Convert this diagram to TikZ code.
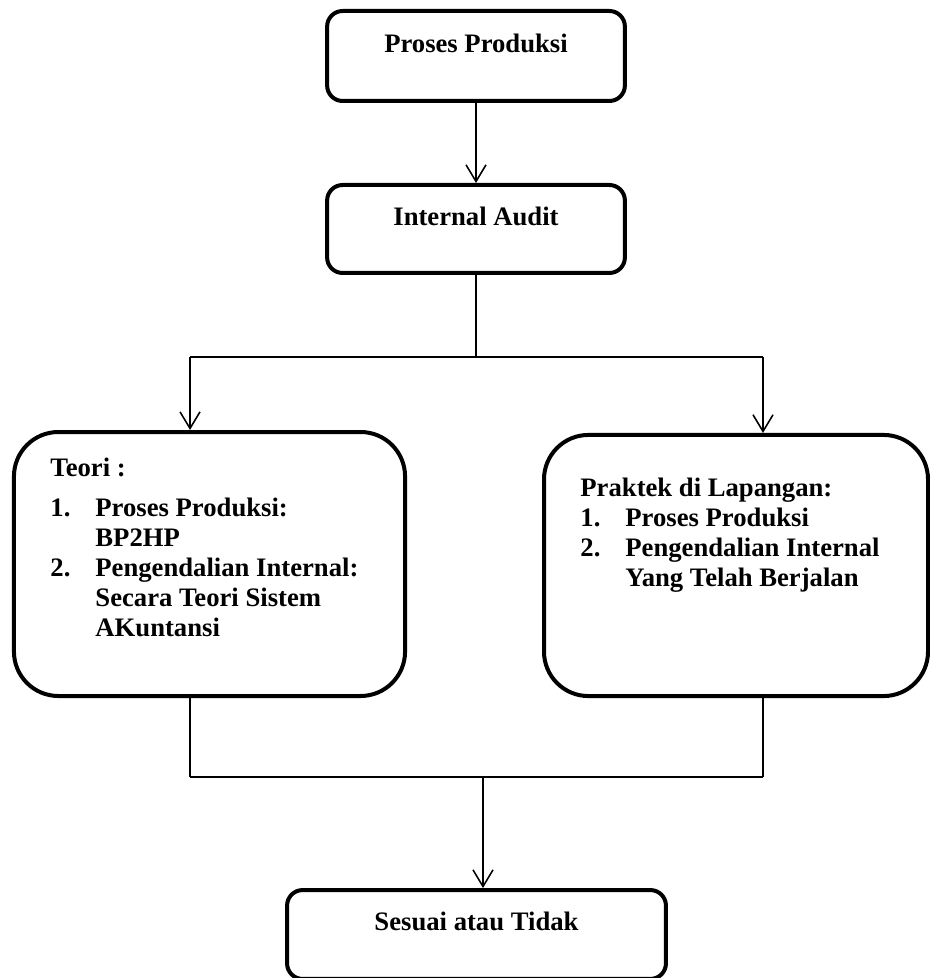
\documentclass[tikz,border=0pt]{standalone}
\usepackage{fontspec}
\setmainfont{Liberation Serif}
\usetikzlibrary{arrows.meta}

\tikzset{
  kotak/.style={draw, line width=1.8pt, rounded corners=7pt, inner sep=0pt,
    minimum width=134pt, text height=18pt, text depth=21.5pt,
    font=\bfseries\fontsize{12}{13.5}\selectfont},
  kotakbesar/.style={draw, line width=1.8pt, rounded corners=20pt, inner sep=0pt},
  isi/.style={anchor=north west, inner sep=0pt, align=left,
    font=\bfseries\fontsize{12}{13.5}\selectfont},
  garis/.style={line width=0.7pt},
  panah/.style={garis, -{Straight Barb[length=7.5pt,width=9pt]}}
}
\newcommand{\butir}[1]{\makebox[20.25pt][l]{#1}}

\begin{document}
\begin{tikzpicture}[x=0.45pt,y=-0.45pt]
  \useasboundingbox (0,0) rectangle (929,978);
  % kotak alur
  \node[kotak, minimum height=40.5pt] (proses) at (476,56) {Proses Produksi};
  \node[kotak, minimum height=39.6pt] (audit) at (476,229) {Internal Audit};
  \node[kotakbesar, minimum width=176pt, minimum height=118.8pt] (teori) at (209.5,564) {};
  \node[kotakbesar, minimum width=172.8pt, minimum height=117.5pt] (praktek) at (736,565.5) {};
  \node[kotak, minimum width=170.5pt, minimum height=40pt] (hasil) at (476.5,934.5) {Sesuai atau Tidak};
  % isi kotak besar
  \node[isi] (teksteori) at (50,458) {Teori :\\[4.25pt]
    \butir{1.}Proses Produksi:\\
    \butir{}BP2HP\\
    \butir{2.}Pengendalian Internal:\\
    \butir{}Secara Teori Sistem\\
    \butir{}AKuntansi};
  \node[isi] (tekspraktek) at (580,478) {Praktek di Lapangan:\\
    \butir{1.}Proses Produksi\\
    \butir{2.}Pengendalian Internal\\
    \butir{}Yang Telah Berjalan};
  % titik cabang
  \coordinate (cabA) at (476,357);
  \coordinate (cabKiri) at (190,357);
  \coordinate (cabKanan) at (763,357);
  \coordinate (gabKiri) at (190,777);
  \coordinate (gabKanan) at (763,777);
  \coordinate (gabTengah) at (483,777);
  % penghubung
  \draw[panah] (proses) -- (audit);
  \draw[garis] (audit.south) -- (cabA);
  \draw[garis] (cabKiri) -- (cabKanan);
  \draw[panah] (cabKiri) -- (cabKiri |- teori.north);
  \draw[panah] (cabKanan) -- (cabKanan |- praktek.north);
  \draw[garis] (teori.south -| gabKiri) -- (gabKiri);
  \draw[garis] (praktek.south -| gabKanan) -- (gabKanan);
  \draw[garis] (gabKiri) -- (gabKanan);
  \draw[panah] (gabTengah) -- (gabTengah |- hasil.north);
\end{tikzpicture}
\end{document}
